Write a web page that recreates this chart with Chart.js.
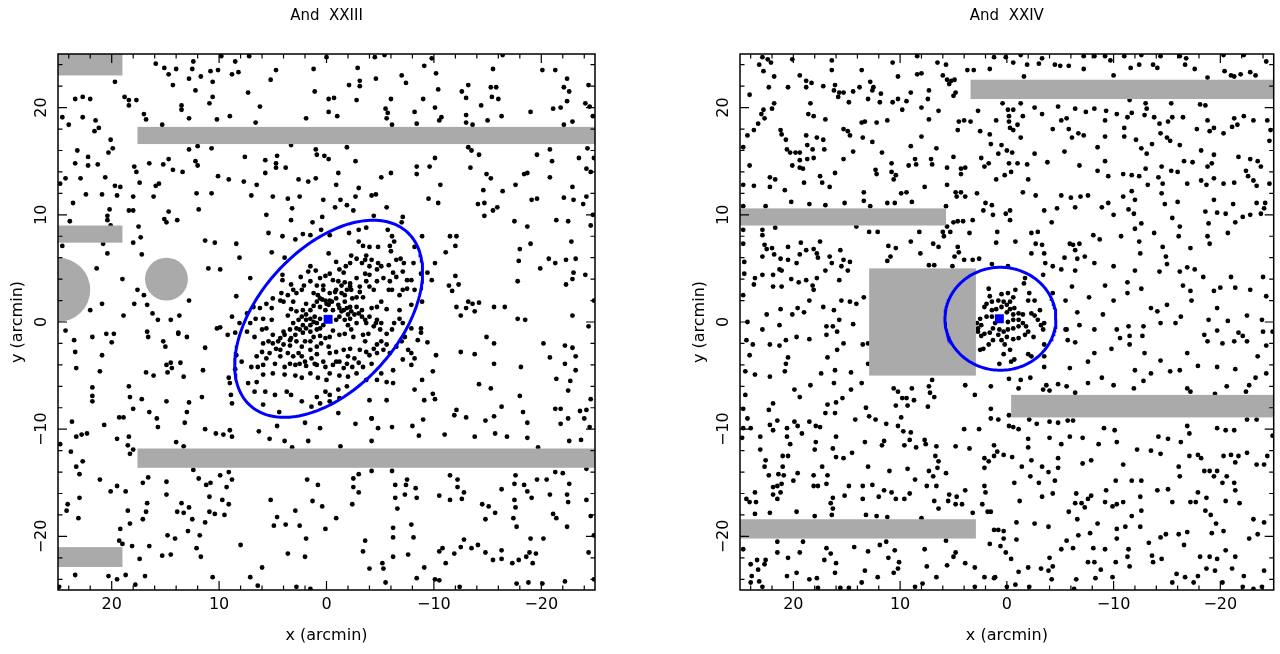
<!DOCTYPE html>
<html><head><meta charset="utf-8">
<script src="https://cdn.jsdelivr.net/npm/chart.js@4.4.1/dist/chart.umd.min.js"></script>
<style>
html,body{margin:0;padding:0;background:#fff;width:1280px;height:654px;overflow:hidden}
canvas{position:absolute;top:0}
#c1{left:0}
#c2{left:682px}
</style></head><body>
<canvas id="c1" width="640" height="654"></canvas>
<canvas id="c2" width="598" height="654"></canvas>
<script>
const panelTitles = ['And  XXIII', 'And  XXIV'];
const xAxisTitle = 'x (arcmin)';
const yAxisTitle = 'y (arcmin)';
const majorTicks = [-20, -10, 0, 10, 20];
const minorTicks = [-24, -22, -18, -16, -14, -12, -8, -6, -4, -2, 2, 4, 6, 8, 12, 14, 16, 18, 22, 24];

// And XXIII: stars (x, y in arcmin)
const and23Field = [[15.9,24.1],[15.1,23.7],[14.0,23.6],[14.7,23.1],[14.3,22.1],[12.4,24.3],[12.5,23.6],[12.8,22.7],[12.2,21.6],[10.8,23.4],[10.1,23.5],[10.6,22.4],[11.7,22.9],[8.8,23.1],[8.2,23.3],[8.5,24.3],[9.8,24.8],[7.2,24.8],[7.3,21.4],[6.2,20.1],[5.2,22.6],[4.7,23.5],[1.2,23.6],[0.0,24.7],[1.1,21.5],[-0.2,20.8],[-0.2,19.6],[1.9,19.0],[6.6,18.6],[9.0,19.2],[10.2,18.9],[10.9,20.4],[10.6,21.0],[13.5,20.2],[13.5,19.8],[12.8,19.0],[15.3,18.4],[16.8,18.9],[17.0,19.4],[17.7,20.7],[18.8,21.0],[18.4,20.7],[18.4,20.2],[19.7,22.4],[23.4,20.8],[22.7,21.0],[22.0,20.8],[24.6,19.1],[24.0,18.4],[22.7,19.1],[21.5,18.8],[21.2,18.1],[21.6,17.8],[20.1,17.0],[19.9,16.2],[20.3,15.8],[23.2,16.0],[22.2,15.4],[23.4,14.8],[22.2,14.6],[21.3,14.7],[20.6,13.5],[24.3,13.4],[22.9,13.4],[22.4,11.9],[20.9,11.9],[19.7,12.7],[19.2,12.6],[19.5,11.8],[23.6,11.1],[23.9,9.4],[20.4,9.9],[20.4,9.5],[20.2,10.5],[20.1,9.0],[24.8,12.9],[17.9,14.5],[17.7,14.0],[17.4,13.0],[18.0,11.7],[18.4,10.4],[18.0,10.4],[17.5,8.9],[18.0,7.4],[19.0,4.0],[17.3,7.9],[16.5,14.8],[15.2,14.7],[14.7,15.2],[14.3,14.2],[13.4,14.0],[15.9,12.7],[15.6,12.9],[16.1,11.7],[14.7,10.3],[15.1,9.6],[14.9,9.3],[13.9,9.5],[11.9,10.5],[12.1,12.0],[10.7,12.0],[12.8,16.1],[12.0,16.4],[10.7,16.2],[12.2,15.0],[12.0,14.6],[10.1,13.6],[9.1,13.3],[7.6,15.4],[7.7,13.1],[6.5,12.8],[7.0,11.8],[5.7,15.1],[4.6,15.5],[4.7,14.8],[4.7,14.4],[5.7,13.9],[3.8,14.4],[3.3,16.5],[1.0,16.1],[0.9,15.6],[0.2,15.5],[-0.2,15.2],[1.0,13.4],[1.7,13.1],[2.6,13.3],[5.0,11.7],[3.6,11.5],[2.5,11.7],[3.2,10.6],[0.3,11.4],[10.4,7.4],[11.3,7.6],[11.0,5.0],[9.9,4.9],[10.2,-0.6],[12.8,2.0],[13.7,0.6],[14.5,0.2],[15.7,0.2],[16.2,0.8],[16.7,1.6],[17.6,3.0],[17.0,2.5],[17.9,1.7],[16.1,4.5],[17.2,6.3],[18.9,0.6],[20.5,-1.1],[19.8,-1.1],[21.4,5.0],[22.0,1.1],[20.9,1.7],[24.6,7.1],[20.4,6.4],[20.8,7.3],[24.3,-0.8],[13.8,-1.1],[16.7,-0.9],
[23.5,-1.7],[23.4,-2.8],[23.3,-4.3],[21.8,-1.4],[20.0,-1.9],[20.9,-3.1],[21.1,-4.6],[21.8,-6.1],[21.8,-6.9],[21.8,-7.4],[20.7,-9.6],[19.3,-8.9],[18.9,-8.9],[18.0,-8.1],[18.4,-6.0],[18.3,-7.0],[17.2,-7.2],[16.6,-1.4],[16.8,-4.7],[16.1,-5.0],[15.2,-1.8],[15.0,-2.3],[14.8,-4.7],[14.5,-3.8],[14.4,-4.3],[14.9,-4.0],[14.9,-7.4],[13.8,-1.0],[13.0,-1.4],[13.6,-3.8],[13.3,-5.1],[12.8,-7.5],[13.0,-8.4],[13.2,-9.4],[16.5,-8.4],[15.8,-9.0],[15.7,-9.8],[14.0,-11.2],[13.3,-11.6],[11.5,-4.5],[11.6,-7.0],[11.3,-2.4],[9.9,-0.5],[9.2,-1.2],[9.1,-5.2],[11.3,-10.0],[10.3,-10.4],[9.6,-10.5],[9.0,-10.1],[8.8,-10.7],[8.9,-6.8],[24.8,-11.4],[23.7,-9.3],[23.3,-10.7],[22.8,-10.5],[22.3,-10.4],[23.8,-12.1],[23.3,-13.5],[23.0,-14.2],[22.7,-13.0],[19.5,-10.9],[18.4,-10.7],[18.5,-11.5],[18.3,-12.3],[18.0,-11.9],[21.1,-14.7],[19.5,-15.3],[20.1,-15.8],[18.7,-15.8],[24.1,-17.0],[24.2,-17.6],[23.0,-16.4],[23.1,-18.3],[18.5,-17.6],[18.3,-18.8],[19.2,-19.3],[19.3,-20.4],[19.0,-20.7],[18.1,-20.9],[17.1,-15.0],[16.6,-14.5],[16.7,-16.9],[16.8,-17.7],[17.1,-18.4],[17.4,-22.1],[16.5,-20.9],[15.3,-21.8],[14.5,-21.7],[14.8,-19.9],[14.1,-20.2],[14.9,-14.9],[14.9,-16.1],[13.5,-16.9],[13.9,-17.7],[13.3,-17.8],[12.8,-17.3],[12.5,-18.4],[12.9,-19.5],[11.8,-19.9],[12.1,-21.1],[11.7,-21.9],[12.4,-13.8],[11.9,-14.6],[11.2,-15.2],[10.8,-15.0],[10.9,-16.3],[11.3,-18.7],[10.9,-17.7],[10.4,-17.9],[9.7,-16.6],[9.5,-18.0],[9.1,-17.0],[9.9,-14.3],[9.1,-14.0],[8.8,-14.7],[9.3,-15.4],[10.6,-23.8],[8.0,-20.8],[7.1,-23.8],[6.0,-22.9],[6.4,-24.6],[4.9,-19.0],[4.6,-18.2],[5.2,-16.6],[3.8,-18.9],[3.6,-21.6],[2.5,-19.0],[2.9,-17.6],[2.8,-24.7],[2.0,-21.9],[1.9,-20.2],[1.5,-24.9],[1.3,-16.7],[0.8,-15.2],[1.8,-14.7],[0.1,-19.3],[0.4,-17.2],[6.3,-10.2],[5.3,-10.9],[4.6,-9.7],[3.9,-11.1],[3.2,-11.7],[2.0,-9.4],[1.7,-11.1],[0.6,-9.9],[23.4,-23.6],[24.9,-24.7],[20.3,-23.7],[19.5,-24.0],[18.7,-23.6],[17.8,-24.5],[16.9,-23.7],
[-4.5,24.7],[-5.4,24.9],[-2.9,23.7],[-2.1,22.1],[-3.1,22.5],[-3.1,22.0],[-4.6,22.7],[-0.7,20.9],[-2.8,20.7],[-1.0,19.2],[-6.0,20.8],[-5.5,19.9],[-5.7,19.5],[-5.6,19.0],[-6.1,18.4],[-7.0,23.0],[-7.4,22.3],[-8.2,19.6],[-8.4,18.5],[-9.1,23.9],[-9.8,24.6],[-10.2,23.2],[-9.0,20.8],[-10.1,20.0],[-10.4,21.7],[-10.7,19.1],[-10.5,18.8],[-12.6,21.5],[-13.2,22.1],[-13.0,20.9],[-13.0,19.3],[-13.0,18.6],[-13.6,18.4],[-14.4,20.2],[-15.0,18.8],[-15.3,21.9],[-15.8,21.9],[-15.5,23.6],[-15.4,21.0],[-16.0,20.8],[-16.3,19.2],[-16.4,24.9],[-19.0,19.6],[-20.1,23.5],[-21.3,23.5],[-21.1,19.9],[-21.8,20.0],[-22.1,21.9],[-22.4,22.7],[-22.6,21.5],[-22.4,20.6],[-22.1,18.4],[-22.9,18.7],[-24.1,20.4],[-24.5,20.1],[-24.4,22.1],[-24.8,19.2],
[-1.9,16.3],[-2.7,15.0],[-1.1,13.9],[-0.9,12.8],[-3.0,12.5],[-2.7,11.7],[-2.5,10.4],[-0.8,10.7],[-1.3,11.4],[-1.9,10.9],[-4.2,11.8],[-4.6,11.9],[-5.1,13.5],[-6.0,13.9],[-5.6,10.7],[-8.4,14.5],[-8.4,13.8],[-9.6,14.5],[-10.1,15.3],[-10.6,12.8],[-9.5,11.5],[-10.4,11.1],[-13.2,16.3],[-13.5,16.0],[-14.2,15.6],[-13.4,14.4],[-14.9,13.8],[-15.3,13.4],[-14.6,12.3],[-16.4,12.2],[-14.1,11.0],[-14.7,11.1],[-15.9,10.7],[-15.5,10.4],[-14.7,9.9],[-17.6,12.8],[-18.4,13.8],[-18.7,13.9],[-19.6,15.6],[-20.8,16.1],[-21.0,15.0],[-20.8,13.5],[-19.1,11.4],[-19.6,11.5],[-21.4,9.5],[-22.1,11.6],[-22.9,12.6],[-23.0,11.4],[-23.9,11.0],[-24.2,11.7],[-24.2,14.3],[-24.6,14.0],[-23.5,15.3],[-24.3,16.2],[-24.9,15.3],[-17.5,9.4],[-18.7,8.9],[-22.5,9.4],[-24.6,9.0],[-24.8,10.0],[-22.8,7.5],[-19.0,7.3],[-18.0,6.8],[-17.9,5.7],[-20.7,5.9],[-21.3,5.5],[-19.9,5.0],[-22.3,5.8],[-23.2,5.9],[-23.0,4.6],[-22.9,4.0],[-22.3,3.5],[-24.1,4.4],[-17.8,3.8],[-17.8,0.3],[-18.5,0.2],[-22.9,0.6],[-24.4,-0.4],[-24.9,2.0],[-11.5,8.0],[-12.1,8.0],[-12.0,7.1],[-11.1,6.5],[-10.1,5.5],[-9.4,4.6],[-9.8,3.9],[-11.4,3.4],[-12.0,4.3],[-12.3,3.5],[-11.7,2.9],[-12.1,1.4],[-12.5,0.6],[-13.2,1.9],[-13.0,1.3],[-13.6,1.7],[-14.2,1.8],[-13.8,1.0],[-14.9,-1.4],[-15.6,1.4],[-16.6,1.4],[-8.8,-1.0],
[-10.2,-3.1],[-12.5,-2.8],[-13.8,-3.0],[-15.6,-2.0],[-15.6,-3.9],[-14.2,-5.8],[-15.3,-6.2],[-16.3,-7.9],[-14.8,-9.2],[-15.6,-8.8],[-15.7,-10.4],[-16.8,-10.7],[-18.1,-4.2],[-18.0,-6.9],[-18.3,-8.4],[-18.7,-9.4],[-18.7,-10.8],[-19.7,-11.7],[-20.2,-2.0],[-20.8,-3.3],[-21.4,-5.3],[-22.2,-2.2],[-22.2,-3.9],[-22.9,-2.4],[-23.2,-3.2],[-23.2,-4.5],[-22.7,-5.5],[-22.5,-6.4],[-21.3,-8.1],[-21.8,-8.1],[-22.5,-9.0],[-21.8,-9.5],[-22.6,-11.1],[-23.7,-11.0],[-23.6,-8.3],[-24.0,-9.0],[-24.2,-8.2],[-24.6,-7.2],[-24.5,-9.8],[-24.2,-13.7],
[-2.5,-14.6],[-3.0,-14.2],[-2.5,-15.4],[-3.0,-15.9],[-2.4,-17.0],[-0.9,-18.3],[-3.6,-20.4],[-3.4,-21.4],[-4.2,-13.9],[-6.1,-13.9],[-6.4,-15.2],[-6.4,-16.4],[-6.6,-17.4],[-6.2,-19.2],[-6.2,-20.1],[-6.2,-21.9],[-5.2,-22.5],[-5.3,-23.0],[-4.0,-23.0],[-5.5,-24.3],[-7.5,-14.7],[-7.4,-15.2],[-8.3,-15.5],[-7.3,-16.1],[-8.4,-16.4],[-7.9,-18.9],[-8.1,-20.1],[-7.6,-21.7],[-9.1,-22.9],[-8.4,-23.9],[-10.1,-24.0],[-10.5,-24.1],[-10.5,-16.2],[-11.5,-14.3],[-12.2,-14.7],[-12.2,-15.4],[-12.8,-15.9],[-11.5,-16.6],[-12.6,-16.5],[-10.5,-21.4],[-10.8,-21.1],[-11.1,-22.5],[-11.9,-21.6],[-12.5,-21.0],[-12.8,-20.3],[-13.5,-21.1],[-14.1,-20.8],[-14.8,-21.5],[-15.5,-22.2],[-16.3,-21.3],[-16.3,-22.1],[-17.3,-22.5],[-17.9,-22.2],[-18.6,-21.9],[-18.9,-21.5],[-19.0,-20.2],[-19.2,-22.5],[-19.5,-21.6],[-20.2,-20.2],[-12.4,-24.7],[-17.7,-24.4],[-18.8,-24.3],[-20.1,-24.4],[-22.2,-24.2],[-24.9,-24.0],[-24.4,-21.5],[-24.9,-19.9],[-24.6,-18.1],[-24.2,-16.6],[-22.4,-16.1],[-22.5,-16.8],[-22.4,-19.1],[-21.4,-18.3],[-21.1,-17.9],[-20.8,-16.1],[-21.3,-14.0],[-22.0,-14.1],[-22.6,-15.1],[-20.5,-14.7],[-19.6,-14.7],[-19.1,-16.4],[-18.7,-15.8],[-18.4,-15.2],[-17.6,-14.3],[-17.5,-15.1],[-17.5,-16.6],[-17.6,-17.3],[-17.4,-18.3],[-17.7,-19.1],[-16.3,-15.6],[-15.1,-17.2],[-14.8,-18.4],[-14.5,-17.0],[-15.7,-17.8],[-13.8,-10.7],[-11.0,-10.5],[-10.1,-7.2],[-9.9,-6.7],[-11.9,-8.7],[-12.1,-8.2],[-13.0,-8.9],[-9.0,-9.1],[-8.6,-10.6],[-8.0,-9.7],[-9.1,-7.3],[-9.9,-4.6],[-9.4,-1.9],[-6.1,-9.8],[-4.2,-11.1],[-4.2,-9.0],[-2.7,-9.5],[-1.3,-11.6],[-4.8,-9.9]];

const and23Core = [[5.6,10.0],[3.3,9.5],[0.4,9.8],[1.3,9.3],[-4.4,9.9],[-7.1,9.8],[-7.0,9.3],[-5.7,8.6],[-3.7,8.8],[-3.0,8.6],[-2.1,8.3],[-0.3,8.1],[0.5,8.6],[1.5,8.1],[2.2,8.2],[2.9,7.7],[4.1,8.0],[5.4,8.3],[8.4,7.3],[8.1,6.0],[5.1,6.5],[3.9,6.0],[7.1,4.1],[-6.1,8.0],[-6.3,7.5],[-5.9,7.1],[-6.0,6.6],[-3.4,7.1],[-3.0,7.5],[-4.0,7.0],[-4.8,7.0],[-6.9,5.9],[-7.2,5.5],[-8.1,5.5],[-8.2,7.0],[-8.9,8.0],[-2.3,6.2],[-2.8,5.9],[-3.7,6.2],[-3.6,5.8],[-4.2,5.8],[-4.8,5.5],[-5.1,5.2],[-4.7,4.9],[-6.2,4.6],[-0.2,6.4],[-0.9,5.6],[-1.2,4.9],[-1.6,4.6],[-1.8,5.2],[-2.2,5.5],[-0.3,4.5],[0.1,4.3],[1.5,5.2],[1.7,4.7],[1.0,4.8],[0.6,4.1],[4.1,4.4],[4.1,3.9],[3.3,3.5],[3.1,3.0],[2.4,4.2],[2.1,3.4],[1.2,2.7],[-0.6,3.9],[-1.1,3.8],[-1.7,3.7],[-1.4,3.4],[-2.2,3.3],[-2.3,3.0],[-3.1,2.8],[-3.4,2.3],[-4.0,3.3],[-4.4,3.0],[-2.8,4.1],[-3.6,4.5],[-4.0,4.4],[-5.8,3.0],[-6.1,3.0],[-7.1,3.0],[-7.5,3.1],[-6.8,2.5],[-7.9,3.9],[-8.8,4.5],[-8.9,1.9],[-7.9,1.6],[-6.8,1.1],[-5.6,1.2],[-5.1,1.9],[-4.7,1.4],[-4.2,1.3],[-3.7,-0.1],[-4.6,-0.1],[-3.3,1.1],[-2.8,1.4],[-3.0,0.8],[-2.2,1.4],[-1.7,1.9],[-1.1,1.6],[-0.9,2.2],[-0.3,2.0],[0.0,1.7],[0.4,2.1],[0.9,1.9],[0.6,1.4],[1.2,1.5],[1.5,1.1],[1.9,1.7],[2.2,1.1],[2.8,1.0],[3.3,1.2],[3.1,1.9],[4.0,1.9],[4.2,2.7],[5.1,1.3],[5.9,0.3],[6.6,0.3],[5.1,0.2],[7.4,0.8],[8.1,-0.1],[8.5,-1.0],[8.4,2.4],[8.8,0.5],[3.6,0.6],[2.3,0.5],[1.9,0.2],[1.1,0.5],[1.5,-0.3],[0.9,-0.1],[0.3,-0.3],[-0.9,0.2],[-1.2,0.5],[-1.7,0.2],[-2.2,0.3],[-2.0,-0.3],[-2.3,-0.7],[0.9,-0.7],[1.5,-0.9],[2.2,-1.0],[2.8,-0.6],[3.4,-0.7],[3.9,-1.2],[4.3,-1.5],[5.0,-1.2],[5.4,-1.8],[5.9,-2.0],[5.0,-2.0],[4.0,-2.1],[3.4,-2.2],[2.8,-1.8],[2.3,-2.3],[2.0,-1.8],[1.2,-1.4],[0.6,-1.3],[0.1,-1.5],[-0.3,-1.4],[0.5,-2.0],[-0.2,-2.3],[1.5,-2.6],[2.3,-3.2],[3.6,-2.9],[4.3,-3.2],[4.8,-3.9],[5.6,-3.4],[6.4,-4.2],[5.9,-4.0],[7.0,-4.2],[7.9,-3.7],[8.5,-4.4],[3.4,-3.9],[2.9,-4.0],[2.5,-3.9],[1.9,-4.1],[1.1,-3.9],[0.9,-3.0],[-0.3,-2.9],[-0.9,-2.8],[-1.6,-2.6],[-2.0,-3.2],[-2.6,-3.4],[-3.0,-3.8],[-2.4,-4.2],[-3.4,-4.2],[-4.2,-3.9],[-4.0,-3.1],[-4.7,-2.9],[-4.4,-2.5],[-3.6,-1.8],[-2.5,-1.4],[-3.4,-1.2],[-3.9,-1.1],[-1.7,-1.1],[-5.1,-1.8],[-5.6,-2.1],[-6.1,-0.7],[-6.3,-0.1],[-7.1,-0.1],[-6.8,0.3],[-7.9,-0.6],[-8.8,-0.6],[-8.5,-1.7],[-7.6,-2.6],[-7.9,-2.9],[-7.1,-3.5],[-6.2,-4.5],[-5.6,-5.6],[-6.2,-5.7],[-5.1,-4.8],[-4.7,-5.4],[-3.7,-5.4],[-2.8,-4.8],[-2.0,-5.1],[-1.2,-5.0],[-0.3,-4.8],[0.0,-5.4],[0.8,-5.2],[1.5,-4.8],[2.3,-5.2],[2.9,-5.0],[3.9,-4.9],[5.0,-4.8],[5.9,-4.9],[6.5,-5.6],[7.3,-5.7],[6.7,-6.5],[5.7,-6.5],[4.8,-6.8],[3.7,-6.5],[3.3,-6.8],[2.3,-7.4],[0.9,-7.0],[0.1,-6.5],[-0.3,-6.8],[-1.1,-6.3],[-1.9,-6.0],[-1.2,-7.1],[-0.3,-7.4],[0.6,-7.6],[1.4,-7.9],[-1.1,-8.5],[4.4,-8.4],[5.9,-7.7],[9.0,-5.7],[8.8,-7.6],[-4.0,-7.3],[-4.2,-9.0],[-5.6,-7.3],[-7.9,-4.0],[-8.2,-6.3],[-8.9,-5.4],[-8.2,-3.4],[8.4,-3.1],[0.3,3.0],[0.8,2.5],[-0.3,2.7],[-0.8,2.8],[-1.7,2.5],[-2.4,2.2],[-2.8,2.3],[0.1,1.1],[-0.6,1.1],[-1.4,1.0],[-2.0,0.7],[1.9,0.7],[2.6,0.2],[3.1,-0.1],[0.6,-0.6],[-0.6,-0.8],[-1.2,-1.2],[1.5,-1.8],[0.9,-2.3],[3.3,-1.5],[4.3,-2.6],[2.6,-2.9],[0.3,-3.7],[-0.9,-3.7],[-1.6,-4.3],
[0.6,2.2],[0.1,2.0],[-0.2,1.6],[-0.5,1.9],[-1.2,1.3],[-1.6,1.1],[-1.9,1.3],[-2.3,1.0],[-2.6,0.7],[-3.3,0.5],[-3.6,0.2],[-4.0,0.5],[-4.7,0.2],[-5.1,-0.1],[1.5,0.3],[1.2,0.0],[0.6,0.3],[2.2,-0.3],[1.9,-0.6],[2.5,-0.7],[2.9,-1.2],[3.4,-1.7],[4.0,-0.9],[4.5,-1.8],[4.7,-2.5],[5.3,-2.9],[6.0,-2.8],[6.5,-3.2],[3.9,-4.2],[3.1,-3.2],[2.0,-3.7],[1.4,-3.4],[0.9,-4.0],[0.1,-4.2],[-0.6,-4.0],[-1.2,-3.7],[-1.9,-3.9],[-2.2,-2.5],[-3.1,-2.6],[-3.7,-2.8],[-4.7,-2.1],[-5.3,-2.6],[-5.9,-2.9],[-6.5,-2.3],[-7.0,-1.8],[-7.3,-1.4],[-5.6,-1.1],[-5.0,-0.7],[-4.4,-0.4],[-2.8,-0.1],[-0.9,3.0],[-1.4,2.7],[-1.9,3.0],[-2.2,3.6],[-3.1,3.3],[-3.7,3.8],[-4.7,3.8],[-5.3,4.1],[-5.9,3.8],[-6.5,4.2],[-7.1,4.7],[-7.5,3.9],[-8.2,3.0],[-5.8,5.3],[-6.5,5.8],[-4.0,5.2],[-3.3,5.5],[0.3,3.4],[0.9,3.4],[1.5,3.8],[2.3,3.0],[2.8,2.7],[3.6,2.5],[4.3,2.0],[5.0,2.2],[5.6,1.7],[6.2,1.3],[6.8,1.4],[7.1,-0.1],[7.4,-0.9],[6.7,-1.4],[6.0,-0.7],[5.6,-0.6]];

// And XXIV: stars (x, y in arcmin)
const and24Field = [[22.9,24.7],[23.2,24.0],[22.4,24.5],[22.1,24.2],[22.8,23.4],[21.8,22.9],[22.3,21.9],[24.1,21.2],[20.5,21.9],[19.4,23.0],[20.1,24.5],[18.8,22.5],[18.3,22.3],[18.8,21.9],[17.2,22.0],[16.4,23.5],[16.4,24.4],[16.1,22.1],[16.2,21.6],[15.7,21.4],[15.3,21.4],[15.8,21.0],[14.8,20.5],[14.4,21.5],[13.8,21.9],[13.6,23.5],[12.8,22.4],[12.5,21.9],[12.6,21.6],[11.8,21.3],[13.0,20.8],[11.9,20.5],[10.7,24.2],[10.2,22.9],[10.7,20.5],[10.2,20.8],[9.4,20.6],[9.8,19.8],[9.0,21.4],[8.4,23.1],[8.0,23.2],[8.4,24.8],[6.5,24.2],[5.7,24.0],[6.0,23.0],[5.6,22.6],[5.2,22.5],[4.9,22.6],[5.4,22.2],[4.8,21.4],[5.0,21.1],[7.3,21.6],[7.4,20.8],[8.0,20.0],[6.4,19.7],[7.3,18.9],[8.0,17.3],[4.6,17.9],[4.5,18.7],[4.0,18.8],[3.4,18.7],[3.7,23.5],[3.1,23.5],[2.7,19.7],[2.5,17.8],[1.6,17.5],[1.5,16.6],[1.7,14.8],[2.1,14.5],[2.4,15.3],[1.2,24.7],[1.6,23.6],
[21.8,20.4],[22.0,19.9],[22.8,19.8],[23.0,19.4],[22.7,19.0],[23.3,18.5],[23.7,17.9],[24.3,17.4],[24.7,16.3],[24.1,14.6],[24.7,12.8],[23.7,12.7],[24.7,10.8],[22.2,13.5],[21.7,13.3],[22.2,12.6],[20.8,12.3],[21.2,17.9],[21.1,17.5],[20.7,17.0],[20.6,16.1],[20.3,15.8],[19.8,15.8],[19.4,15.8],[20.1,14.6],[19.4,14.4],[19.4,15.1],[19.1,14.3],[19.0,13.0],[18.7,15.2],[18.1,15.3],[18.2,16.1],[18.7,16.5],[18.8,17.4],[17.8,17.2],[17.2,17.0],[17.1,16.1],[18.6,19.4],[18.1,19.2],[18.4,20.4],[17.0,18.9],[17.5,13.6],[17.3,13.0],[16.6,12.6],[16.1,13.9],[15.3,18.0],[14.9,17.8],[14.7,17.4],[14.4,15.9],[15.3,15.2],[13.6,18.6],[13.3,18.7],[13.5,17.2],[12.6,16.8],[12.2,18.6],[11.2,18.8],[11.7,15.8],[12.3,14.2],[12.2,13.8],[10.8,14.8],[10.8,14.0],[10.4,13.7],[10.6,13.3],[9.0,16.4],[8.6,15.2],[9.2,14.6],[8.5,14.7],[7.7,12.6],[7.1,15.2],[7.0,14.7],[6.6,16.2],[5.6,14.4],[5.0,15.4],[4.3,14.3],[3.9,14.4],[4.3,13.8],[5.6,12.8],[4.8,12.1],[4.7,11.7],[4.3,12.1],[3.9,11.7],[2.8,12.0],[2.0,11.1],[1.4,10.9],[2.2,10.4],[1.3,10.0],[13.4,12.1],[13.4,11.3],[12.8,10.8],[11.2,11.1],[10.5,11.1],[9.9,12.0],[9.4,12.1],[8.9,11.2],[15.2,11.1],[17.0,10.9],[18.5,11.0],[20.2,11.2],[22.6,10.8],[5.7,10.8],
[24.7,8.6],[24.7,7.3],[24.6,5.6],[24.6,4.5],[24.7,2.5],[24.3,0.0],[22.9,8.6],[22.9,8.1],[22.7,7.2],[22.5,6.8],[22.9,6.1],[21.7,8.8],[22.0,6.9],[21.8,6.3],[21.2,5.9],[20.5,5.8],[21.3,4.9],[21.1,4.8],[21.9,4.4],[22.9,4.4],[23.6,4.1],[23.7,3.5],[21.9,3.3],[21.1,3.3],[21.2,1.2],[22.5,0.7],[21.3,-0.3],[20.5,7.0],[19.3,7.4],[19.4,6.3],[18.8,6.7],[18.1,6.8],[17.5,7.5],[17.8,6.4],[17.7,6.0],[16.6,6.1],[17.0,4.8],[16.4,5.5],[15.3,5.8],[15.5,5.2],[14.7,5.6],[14.9,4.8],[15.7,3.9],[15.6,6.7],[14.1,8.9],[19.7,5.5],[20.2,4.0],[19.5,3.7],[18.8,3.9],[18.2,3.4],[18.1,3.0],[17.8,4.1],[18.5,2.0],[19.0,0.9],[19.6,1.3],[20.1,0.7],[17.2,1.4],[16.2,1.1],[15.5,2.0],[14.7,1.9],[14.4,-0.2],[16.3,-0.4],[14.1,1.7],[13.4,2.3],[12.9,8.4],[12.1,8.4],[11.1,7.1],[10.9,6.1],[11.2,5.7],[10.4,6.9],[9.0,7.5],[8.2,8.4],[8.1,6.4],[7.3,5.3],[6.9,7.3],[6.8,5.3],[6.4,7.0],[6.0,8.4],[5.9,8.0],[5.6,8.9],[5.3,8.4],[5.0,9.3],[4.6,9.4],[4.1,9.4],[3.5,8.3],[3.2,9.5],[4.6,7.0],[4.5,6.5],[4.9,6.1],[4.0,5.8],[3.2,5.8],[2.6,5.9],[5.1,5.2],[22.9,-0.7],[16.9,-0.4],[15.7,0.2],
[15.9,-0.9],[16.9,-1.2],[24.4,-1.7],[23.8,-2.1],[24.1,-3.1],[24.5,-4.6],[23.6,-4.9],[22.2,-2.1],[21.3,-2.2],[20.7,-1.7],[19.7,-1.4],[20.5,-3.3],[20.7,-3.9],[20.8,-4.6],[22.2,-5.1],[18.5,-1.6],[16.8,-3.3],[17.4,-4.8],[16.1,-4.5],[15.9,-2.6],[15.3,-2.0],[14.6,-4.7],[13.5,-2.1],[13.0,-2.0],[13.0,-3.9],[13.6,-5.7],[16.2,-5.7],[18.4,-5.9],[19.9,-6.3],[19.4,-7.0],[24.5,-6.8],[24.7,-8.1],[24.3,-9.0],[24.7,-9.9],[24.0,-9.9],[24.8,-10.8],[23.1,-10.7],[23.1,-11.9],[22.3,-8.2],[21.9,-7.6],[22.2,-9.6],[21.9,-10.1],[21.5,-9.2],[20.6,-9.9],[20.6,-10.7],[20.3,-11.4],[19.9,-9.3],[19.6,-9.7],[19.2,-10.4],[18.5,-9.3],[17.9,-9.7],[17.5,-9.8],[17.9,-11.2],[18.0,-11.9],[16.8,-7.7],[17.0,-8.5],[16.1,-8.5],[16.0,-7.5],[15.4,-7.1],[14.6,-6.3],[16.3,-11.8],[16.0,-10.7],[16.0,-12.6],[15.3,-12.7],[14.5,-12.2],[14.2,-9.1],[13.2,-8.0],[12.9,-8.8],[12.3,-9.1],[11.3,-9.5],[11.5,-11.1],[11.7,-11.5],[13.3,-11.2],[13.0,-13.5],[11.0,-13.9],[10.6,-6.2],[10.2,-6.5],[9.8,-7.1],[10.4,-7.8],[9.4,-7.1],[8.9,-6.2],[8.7,-7.3],[9.3,-7.8],[9.9,-8.9],[10.2,-9.7],[9.7,-10.2],[9.0,-10.3],[9.1,-11.0],[9.6,-11.5],[8.5,-11.7],[7.7,-11.0],[7.6,-11.4],[6.6,-11.6],[6.7,-12.5],[6.4,-13.0],[6.5,-13.6],[7.3,-13.9],[6.9,-14.4],[5.7,-14.1],[4.8,-11.6],[3.5,-11.8],[4.0,-10.0],[7.4,-7.9],[7.3,-6.0],[7.2,-6.6],[7.0,-5.4],[6.8,-7.0],[3.9,-5.9],[3.0,-6.8],[2.6,-10.0],[2.1,-12.7],[2.1,-13.6],[1.7,-13.0],[2.1,-15.3],[2.3,-17.0],[1.8,-17.7],[2.0,-15.9],[3.9,-15.7],[3.2,-17.8],[4.2,-17.0],[4.8,-17.0],[4.7,-16.3],[5.4,-16.1],[5.5,-16.7],[6.4,-17.4],[6.8,-16.7],[6.6,-15.3],[7.5,-15.3],[8.6,-14.7],[9.3,-13.7],[9.1,-16.0],[9.6,-16.5],[10.4,-16.5],[10.8,-15.9],[11.5,-15.7],[12.0,-16.3],[12.6,-15.2],[13.5,-15.3],[13.5,-16.5],[14.8,-15.3],[15.2,-16.2],[16.3,-16.4],[16.3,-17.4],[16.5,-16.9],[16.4,-18.0],[18.0,-18.1],[17.7,-15.3],[16.9,-15.1],[16.8,-14.3],[17.3,-13.5],[18.1,-14.3],[18.1,-15.3],[19.6,-14.1],[20.0,-14.8],[20.9,-14.3],[21.0,-13.5],[21.4,-14.2],[21.0,-12.5],[20.5,-12.5],[21.5,-15.3],[21.1,-15.1],[21.2,-15.9],[21.9,-16.1],[21.5,-16.5],[22.3,-14.3],[22.7,-13.5],[22.6,-12.9],[21.9,-15.4],[23.6,-15.9],[24.4,-16.5],[24.1,-16.8],[23.5,-16.8],[23.6,-17.9],[22.2,-17.8],[19.7,-17.7],[13.2,-18.0],[12.2,-18.1],[11.2,-18.2],[8.0,-18.3],
[21.5,-20.5],[21.5,-21.5],[24.7,-21.2],[24.0,-22.6],[23.4,-22.2],[22.6,-22.2],[22.7,-22.6],[23.3,-23.1],[23.9,-23.7],[24.0,-24.3],[23.2,-24.2],[22.9,-24.7],[20.5,-22.0],[20.6,-23.7],[19.7,-23.4],[19.4,-21.5],[19.1,-20.5],[18.5,-24.0],[17.8,-23.9],[17.7,-24.8],[16.9,-21.1],[16.5,-21.6],[17.1,-22.2],[16.0,-22.5],[16.1,-23.4],[15.6,-24.8],[14.8,-24.8],[14.3,-21.0],[13.6,-24.3],[13.0,-21.4],[11.9,-20.8],[11.3,-20.5],[11.1,-22.0],[10.5,-21.3],[10.1,-22.4],[10.2,-23.0],[10.6,-23.4],[12.1,-23.8],[13.3,-23.2],[8.6,-24.7],[7.9,-24.4],[7.7,-21.2],[7.5,-22.8],[6.6,-23.8],[5.7,-20.4],[5.6,-22.7],[5.0,-21.9],[4.8,-21.5],[3.9,-22.5],[3.0,-22.9],[3.0,-24.7],[2.1,-23.8],[1.1,-23.8],[1.6,-20.7],[1.2,-19.4],
[0.1,24.7],[-1.3,24.9],[-0.6,24.2],[-1.9,24.0],[-3.0,24.1],[-3.3,24.6],[-4.5,24.0],[-5.0,23.9],[-5.8,23.9],[-1.6,22.9],[-7.2,24.8],[-7.2,23.6],[-8.2,24.8],[-9.2,24.8],[-9.7,24.4],[-10.0,23.0],[-11.0,24.8],[-11.6,23.7],[-12.4,24.0],[-12.6,24.9],[-13.7,24.0],[-14.1,23.7],[-14.4,24.8],[-16.2,24.8],[-16.8,24.6],[-16.7,24.0],[-17.6,23.6],[-18.8,22.8],[-20.4,23.4],[-21.0,23.0],[-21.3,22.9],[-21.9,23.1],[-22.8,23.3],[-23.3,23.0],[-22.2,24.9],[-24.3,24.3],[-20.3,24.9],
[0.4,20.4],[-0.1,19.8],[-0.6,19.8],[-1.3,20.4],[-0.2,19.2],[1.0,18.8],[-0.2,18.7],[-0.3,18.1],[-0.6,17.9],[-1.0,18.4],[-1.5,19.2],[-2.6,20.0],[-3.3,19.4],[-4.8,20.1],[-5.1,18.8],[-5.6,19.0],[-6.4,19.9],[-7.4,19.6],[-8.2,19.9],[-9.3,19.7],[-9.2,18.8],[-10.3,19.4],[-11.0,18.1],[-11.3,19.1],[-11.7,19.5],[-11.5,20.7],[-13.0,20.4],[-13.1,19.9],[-12.9,19.3],[-13.8,19.1],[-14.3,18.5],[-15.1,18.7],[-15.5,19.1],[-15.4,20.4],[-16.5,19.1],[-16.2,16.5],[-15.3,16.9],[-15.0,17.2],[-14.4,17.6],[-13.6,16.6],[-13.1,15.7],[-12.6,16.2],[-12.1,17.0],[-11.0,17.3],[-9.2,17.3],[-8.5,16.3],[-7.2,17.4],[-6.7,17.6],[-6.1,17.2],[-5.8,18.0],[-4.3,18.0],[-1.3,17.2],[0.5,16.5],[0.8,15.7],[0.0,16.0],[-0.5,15.8],[-2.6,15.7],[-0.2,14.8],[-1.0,14.8],[-1.9,14.7],[-3.8,14.9],[-5.4,15.9],[-6.8,14.6],[-9.2,15.0],[-8.5,14.1],[-9.5,13.6],[-10.9,13.8],[-11.7,13.7],[-12.4,13.6],[-13.0,14.3],[-13.2,12.8],[-14.5,14.5],[-14.2,13.5],[-14.6,12.9],[-14.5,12.0],[-15.4,14.1],[-16.0,14.0],[-16.9,12.9],[-16.6,15.0],[-17.4,14.9],[-18.2,16.0],[-19.4,15.6],[-19.2,14.8],[-18.8,14.5],[-18.2,13.2],[-18.7,12.8],[-19.4,13.4],[-20.3,12.9],[-21.3,13.0],[-21.7,15.4],[-21.6,18.4],[-22.2,19.2],[-21.3,19.0],[-21.1,18.2],[-19.4,18.1],[-19.0,17.8],[-20.3,17.6],[-18.8,18.8],[-18.1,20.3],[-18.6,20.2],[-17.8,18.0],[-23.1,18.8],[-24.4,18.8],[-24.7,17.9],[-24.6,16.9],[-22.8,15.2],[-23.5,15.0],[-23.8,14.5],[-22.4,14.1],[-22.6,13.6],[-23.1,13.2],[-24.6,12.9],[-23.4,12.7],[-24.2,11.1],[-23.4,11.1],[-24.1,10.6],[-23.8,10.1],[-22.8,10.0],[-22.1,9.8],[-21.4,9.3],[-21.2,11.0],[-20.5,10.1],[-20.7,8.3],[-19.4,11.4],[-19.7,10.2],[-18.6,10.3],[-18.9,9.2],[-18.8,8.0],[-19.0,7.3],[-17.2,6.9],[-16.1,8.0],[-16.2,8.9],[-15.5,9.7],[-16.0,11.2],[-14.8,11.0],[-13.8,8.3],[-14.6,7.0],[-14.9,6.1],[-12.6,9.2],[-12.0,8.7],[-12.4,7.5],[-12.5,6.4],[-12.0,4.8],[-11.9,10.1],[-11.4,10.5],[-12.0,11.4],[-11.7,12.2],[-10.9,11.7],[-10.7,8.0],[-10.0,10.0],[-9.5,11.1],[-8.9,10.7],[-7.6,11.8],[-6.9,11.7],[-6.0,11.6],[-6.4,10.7],[-5.1,11.8],[-4.7,10.6],[-4.2,9.3],[-3.5,10.4],[-2.7,11.8],[-1.5,12.1],[-2.0,13.3],[-0.4,14.0],[0.2,13.7],[1.0,13.3],[0.1,10.1],[-0.3,10.4],[-0.3,9.5],[0.9,8.4],[1.0,7.4],[-0.8,7.5],[-2.3,8.3],[-2.9,8.4],[-2.7,7.3],[-3.3,7.2],[-2.3,6.4],[-3.5,6.4],[-5.1,4.9],[-5.9,7.3],[-6.2,7.2],[-6.8,7.3],[-6.4,6.7],[-7.3,6.1],[-6.6,5.9],[-5.4,6.0],[-6.4,4.8],[-8.2,5.5],[-8.1,8.1],[-8.7,7.7],[-10.0,5.2],[-9.2,3.4],[-11.3,3.7],[-11.3,2.7],[-12.6,3.1],[-14.3,4.7],[-15.0,5.4],[-16.2,4.7],[-16.9,5.1],[-17.6,4.9],[-18.4,4.2],[-19.4,2.9],[-20.0,3.2],[-21.4,3.2],[-21.0,4.2],[-24.0,4.2],[-22.8,3.0],[-24.3,2.4],[-17.2,2.9],[-16.5,3.4],[-15.0,1.6],[-15.8,-0.1],[-16.3,0.5],[-17.3,2.0],[-18.9,0.2],[-19.7,1.3],[-20.7,0.1],[-22.5,0.6],[-23.9,0.2],[-24.9,-0.9],[-13.5,1.3],[-14.1,1.0],[-14.4,-0.1],[-12.8,-0.4],[-11.4,-0.4],[-10.3,-0.7],[-10.6,-1.5],[-10.0,2.0],[-9.0,0.7],[-7.7,2.3],[-6.6,0.9],[-6.8,-0.3],[-5.5,-0.7],[-5.5,2.0],[-6.1,3.3],
[-8.2,-0.7],[-11.5,-1.3],[-11.5,-2.1],[-12.7,-1.3],[-12.9,-2.9],[-14.4,-3.6],[-15.3,-4.6],[-16.2,-4.5],[-16.9,-2.9],[-17.9,-4.1],[-18.5,-1.2],[-18.8,-1.8],[-19.7,-0.8],[-20.2,-2.0],[-21.3,-1.8],[-21.7,-1.0],[-22.1,-1.3],[-22.5,-1.8],[-24.0,-0.9],[-24.3,-2.2],[-23.5,-3.2],[-24.3,-4.8],[-21.4,-4.4],[-19.7,-4.2],[-19.5,-6.7],[-20.6,-6.0],[-22.4,-6.5],[-22.7,-5.9],[-23.3,-5.2],[-16.9,-6.2],[-17.2,-6.5],[-13.5,-4.8],[-12.0,-4.5],[-12.8,-5.5],[-11.9,-6.2],[-8.9,-5.2],[-7.6,-5.7],[-7.6,-3.7],[-5.9,-4.3],[-5.7,-1.7],[-6.4,-1.9],[-8.2,-2.9],[-9.8,-2.5],[-10.0,-5.9],[-4.8,-5.8],[-5.6,-6.0],[-6.4,-6.6],[-3.7,-5.9],[-4.0,-6.4],[-3.4,-6.3],[-2.2,-5.2],[-1.3,-5.4],[-0.2,-5.3],[1.5,-6.0],[-1.1,-6.2],[1.5,-8.1],[1.5,-9.0],[0.8,-9.1],[-0.2,-8.7],
[-0.2,-9.7],[-0.6,-9.8],[-1.1,-10.0],[-2.1,-9.1],[-2.8,-9.5],[-4.0,-9.3],[-4.8,-9.4],[-5.7,-9.2],[-6.2,-9.2],[-2.0,-10.9],[-2.0,-11.7],[-4.0,-10.8],[-5.1,-11.4],[-5.9,-10.7],[-7.1,-10.8],[-9.1,-9.9],[-10.1,-10.1],[-8.6,-11.4],[-10.3,-11.2],[-12.2,-11.9],[-13.5,-12.0],[-14.2,-10.7],[-15.1,-10.9],[-16.3,-11.2],[-14.4,-12.3],[-16.1,-13.5],[-17.1,-12.5],[-17.9,-12.4],[-18.2,-12.7],[-18.5,-13.9],[-19.0,-13.9],[-19.7,-13.9],[-19.4,-14.4],[-20.6,-14.4],[-20.2,-15.0],[-21.3,-15.0],[-21.4,-15.7],[-20.3,-12.5],[-21.0,-12.4],[-21.4,-13.1],[-21.7,-12.5],[-22.5,-12.2],[-23.4,-13.3],[-24.1,-13.3],[-24.4,-12.5],[-24.9,-10.6],[-23.4,-9.1],[-22.5,-9.1],[-21.3,-10.1],[-20.5,-10.1],[-19.7,-9.9],[-17.1,-10.4],[-16.9,-9.7],[-12.6,-14.8],[-12.5,-16.3],[-14.1,-15.7],[-15.1,-15.6],[-15.5,-16.8],[-16.2,-14.4],[-17.2,-16.8],[-17.7,-16.8],[-17.9,-15.9],[-18.7,-16.4],[-18.6,-17.6],[-19.1,-18.0],[-19.6,-18.8],[-20.3,-19.5],[-19.2,-19.7],[-20.5,-16.7],[-21.8,-16.9],[-23.1,-18.4],[-24.1,-18.7],[-23.5,-19.8],[-22.7,-20.2],[-20.5,-21.3],[-21.4,-21.9],[-22.2,-23.7],[-24.1,-23.2],[-23.1,-24.9],[-19.7,-22.1],[-19.0,-21.9],[-19.5,-23.2],[-18.1,-21.9],[-18.7,-23.0],[-17.9,-23.7],[-17.5,-24.3],[-16.7,-23.8],[-15.9,-23.5],[-15.5,-24.3],[-16.6,-20.8],[-16.9,-19.6],[-16.1,-19.8],[-14.9,-19.8],[-14.4,-20.1],[-13.6,-21.8],[-14.5,-22.1],[-13.3,-20.6],[-12.5,-19.1],[-11.7,-18.1],[-12.6,-17.6],[-10.9,-16.8],[-10.3,-17.0],[-9.9,-17.2],[-9.3,-15.7],[-10.2,-14.8],[-11.7,-14.8],[-10.9,-13.3],[-7.9,-12.9],[-7.1,-13.2],[-4.8,-12.7],[-4.8,-13.6],[-3.9,-14.0],[-4.5,-14.8],[-3.3,-13.5],[-2.3,-12.9],[-3.0,-15.0],[-3.3,-16.3],[-4.3,-16.0],[-6.5,-16.0],[-6.4,-16.9],[-7.0,-16.9],[-7.6,-16.5],[-7.9,-16.2],[-5.8,-17.7],[-6.6,-18.4],[-7.3,-17.3],[-9.2,-16.8],[-8.5,-18.8],[-7.8,-19.7],[-6.7,-19.9],[-5.6,-20.4],[-6.2,-21.1],[-5.1,-21.2],[-3.9,-19.1],[-2.6,-18.8],[-0.9,-18.7],[-0.9,-20.3],[0.3,-20.2],[0.3,-19.5],[0.8,-19.4],[0.6,-20.9],[0.1,-21.5],[-0.4,-22.1],[1.5,-17.7],[-0.7,-15.0],[-1.2,-16.7],[0.3,-12.4],[1.2,-12.5],[1.2,-11.5],[0.9,-12.1],[-0.5,-12.6],[-1.4,-13.5],[-2.2,-14.4],[-1.1,-23.3],[-2.0,-22.9],[-3.2,-23.0],[-3.9,-23.2],[-4.3,-22.8],[-4.2,-24.0],[-4.0,-22.0],[-6.5,-24.0],[-7.6,-22.4],[-8.2,-22.4],[-8.8,-23.1],[-8.3,-23.9],[-9.9,-23.8],[-10.2,-22.4],[-11.3,-21.9],[-11.4,-21.2],[-11.5,-22.8],[-10.3,-19.3],[-10.3,-20.2],[-11.1,-19.1],[-9.2,-21.2],[-8.1,-21.1],[-13.7,-22.4],[1.2,-23.9],[0.0,-24.7],[-0.8,-24.5],[-2.1,-24.7],[-6.3,-24.9],[-21.1,-23.0],[-20.2,-24.3],[-22.1,-24.7],[-23.9,-24.7]];

const and24Core = [[1.4,5.4],[-0.1,5.2],[-1.7,4.1],[-1.6,3.6],[-3.6,5.5],[-4.3,5.2],[-3.4,4.4],[1.7,3.1],[1.6,2.4],[0.5,2.6],[-0.1,2.7],[-0.6,2.3],[-0.3,1.9],[0.3,1.9],[0.8,2.0],[1.4,1.9],[1.9,1.7],[2.1,1.4],[1.4,1.1],[1.0,1.2],[0.5,1.4],[0.0,1.6],[-0.3,1.2],[-0.7,1.3],[-1.1,0.8],[-0.6,0.7],[0.0,0.9],[-2.0,2.0],[-2.6,2.0],[-2.3,0.8],[-1.5,0.7],[-1.1,0.2],[-0.6,0.2],[-0.1,0.0],[1.4,0.5],[1.9,0.5],[2.5,0.3],[2.8,-0.1],[2.4,-0.3],[2.7,-0.6],[2.7,-0.9],[2.4,-1.3],[2.1,-1.1],[1.6,-1.0],[1.3,-0.6],[1.1,-0.1],[0.7,-0.7],[0.8,-1.2],[0.3,-0.9],[-0.1,-0.7],[-0.6,-0.6],[-1.1,-0.4],[-1.5,-0.1],[-1.8,-0.4],[-2.0,-0.9],[-1.7,-1.2],[-1.1,-1.5],[-0.6,-1.6],[0.0,-1.4],[0.5,-1.7],[1.3,-1.7],[1.7,-2.1],[2.2,-2.5],[0.2,-2.1],[-0.3,-2.6],[0.3,-3.0],[-2.0,-3.0],[-2.3,-3.2],[-0.7,-3.5],[-0.4,-3.7],[0.7,-3.9],[2.5,-2.6],[-2.6,0.6],[-2.9,0.2],[-3.2,-0.3],[-3.5,-0.1],[-3.4,-0.7],[-2.5,-1.4],[-3.5,-2.1],[-3.1,1.1],[-2.1,2.7],[-0.8,3.0],[-3.5,-3.2],[-3.5,-4.2],[-5.6,-0.7],[-4.3,2.7]];

// Optical centres, half-light ellipses [x0, y0, semi-major, semi-minor, angle deg], masked regions
const and23Centre = [[-0.15, 0.25]];
const and24Centre = [[0.7, 0.3]];
const and23Ellipse = [-0.2, 0.3, 10.9, 6.5, 48];
const and24Ellipse = [0.6, 0.3, 5.2, 4.8, 0];
// rectangles: [x1, x2, y1, y2]; circles: [x0, y0, r]
const and23MaskRects = [[25, 19, 23, 25], [17.6, -25, 16.6, 18.2], [25, 19, 7.4, 9.0], [17.6, -25, -13.6, -11.8], [25, 19, -22.85, -21.0]];
const and23MaskCircles = [[25, 3, 3], [14.9, 4, 2]];
const and24MaskRects = [[3.4, -25, 20.8, 22.6], [25, 5.7, 9.0, 10.6], [12.9, 2.9, -5, 5], [-0.4, -25, -8.9, -6.8], [25, 2.9, -20.2, -18.4]];
const and24MaskCircles = [];

const FONT = '"DejaVu Sans", sans-serif';
const fmt = v => (v < 0 ? '\u2212' + Math.abs(v) : String(v));
const toXY = arr => arr.map(p => ({x: p[0], y: p[1]}));

function ellipseOutline(e) {
  const [x0, y0, a, b, angDeg] = e;
  const th = angDeg * Math.PI / 180;
  const ux = -Math.cos(th), uy = Math.sin(th);
  const vx = Math.sin(th), vy = Math.cos(th);
  const pts = [];
  for (let i = 0; i <= 180; i++) {
    const t = i / 180 * 2 * Math.PI;
    const c = Math.cos(t), s = Math.sin(t);
    pts.push({x: x0 + a * c * ux + b * s * vx, y: y0 + a * c * uy + b * s * vy});
  }
  return pts;
}

const panelPlugin = {
  id: 'panelDecor',
  afterDatasetDraw(chart, args, opts) {
    if (args.index !== 2) return;
    const {ctx, chartArea: ca, scales: {x, y}} = chart;
    ctx.save();
    ctx.beginPath(); ctx.rect(ca.left, ca.top, ca.right - ca.left, ca.bottom - ca.top); ctx.clip();
    ctx.fillStyle = '#aaaaaa';
    opts.rects.forEach(r => {
      const x1 = x.getPixelForValue(r[0]), x2 = x.getPixelForValue(r[1]);
      const y1 = y.getPixelForValue(r[2]), y2 = y.getPixelForValue(r[3]);
      ctx.fillRect(Math.min(x1, x2), Math.min(y1, y2), Math.abs(x2 - x1), Math.abs(y2 - y1));
    });
    opts.circles.forEach(c => {
      const cx = x.getPixelForValue(c[0]), cy = y.getPixelForValue(c[1]);
      const rx = Math.abs(x.getPixelForValue(c[0] + c[2]) - cx);
      const ry = Math.abs(y.getPixelForValue(c[1] + c[2]) - cy);
      ctx.beginPath(); ctx.ellipse(cx, cy, rx, ry, 0, 0, 2 * Math.PI); ctx.fill();
    });
    ctx.restore();
  },
  afterDraw(chart, args, opts) {
    const {ctx, chartArea: ca, scales: {x, y}} = chart;
    ctx.save();
    ctx.strokeStyle = '#000';
    ctx.lineWidth = 1.5;
    ctx.strokeRect(ca.left, ca.top, ca.right - ca.left, ca.bottom - ca.top);
    ctx.lineWidth = 1.2;
    ctx.beginPath();
    const tick = (vals, len) => {
      vals.forEach(v => {
        const px = x.getPixelForValue(v);
        ctx.moveTo(px, ca.bottom); ctx.lineTo(px, ca.bottom - len);
        ctx.moveTo(px, ca.top); ctx.lineTo(px, ca.top + len);
        const py = y.getPixelForValue(v);
        ctx.moveTo(ca.left, py); ctx.lineTo(ca.left + len, py);
        ctx.moveTo(ca.right, py); ctx.lineTo(ca.right - len, py);
      });
    };
    tick(majorTicks, 9);
    tick(minorTicks, 4.5);
    ctx.stroke();
    ctx.fillStyle = '#000';
    ctx.font = '16px ' + FONT;
    ctx.textAlign = 'center';
    ctx.textBaseline = 'middle';
    majorTicks.forEach(v => {
      const py = y.getPixelForValue(v);
      ctx.save();
      ctx.translate(ca.left - 16, py);
      ctx.rotate(-Math.PI / 2);
      ctx.fillText(fmt(v), 0, 0);
      ctx.restore();
    });
    ctx.font = '15px ' + FONT;
    ctx.fillText(opts.title, (ca.left + ca.right) / 2, 16);
    ctx.restore();
  }
};

function makePanel(canvasId, title, field, core, centre, ell, rects, circles, rightPad) {
  return new Chart(document.getElementById(canvasId), {
    type: 'scatter',
    data: {
      datasets: [
        {data: toXY(centre), pointStyle: 'rect', pointRadius: 6.3, backgroundColor: '#0000ff', borderWidth: 0},
        {data: ellipseOutline(ell), showLine: true, borderColor: '#0000ff', borderWidth: 3, pointRadius: 0, fill: false, tension: 0},
        {data: toXY(field.concat(core)), pointRadius: 2.4, backgroundColor: '#000', borderWidth: 0}
      ]
    },
    options: {
      responsive: false,
      animation: false,
      events: [],
      layout: {padding: {top: 54, right: rightPad, left: 0, bottom: 0}},
      plugins: {
        legend: {display: false},
        tooltip: {enabled: false},
        panelDecor: {title: title, rects: rects, circles: circles}
      },
      scales: {
        x: {
          type: 'linear', min: -25, max: 25, reverse: true,
          afterBuildTicks: s => { s.ticks = majorTicks.map(v => ({value: v})); },
          afterFit: s => { s.height = 64; },
          grid: {display: false, drawTicks: false},
          border: {display: false},
          ticks: {color: '#000', font: {family: FONT, size: 16}, padding: 5, maxRotation: 0, callback: v => fmt(v)},
          title: {display: true, text: xAxisTitle, color: '#000', font: {family: FONT, size: 16}, padding: {top: 0, bottom: 8.4}}
        },
        y: {
          type: 'linear', min: -25, max: 25,
          afterBuildTicks: s => { s.ticks = majorTicks.map(v => ({value: v})); },
          afterFit: s => { s.width = 58; },
          grid: {display: false, drawTicks: false},
          border: {display: false},
          ticks: {display: false},
          title: {display: true, text: yAxisTitle, color: '#000', font: {family: FONT, size: 16}, padding: {top: 8.4, bottom: 0}}
        }
      }
    },
    plugins: [panelPlugin]
  });
}

makePanel('c1', panelTitles[0], and23Field, and23Core, and23Centre, and23Ellipse, and23MaskRects, and23MaskCircles, 45);
makePanel('c2', panelTitles[1], and24Field, and24Core, and24Centre, and24Ellipse, and24MaskRects, and24MaskCircles, 3);
</script>
</body></html>
